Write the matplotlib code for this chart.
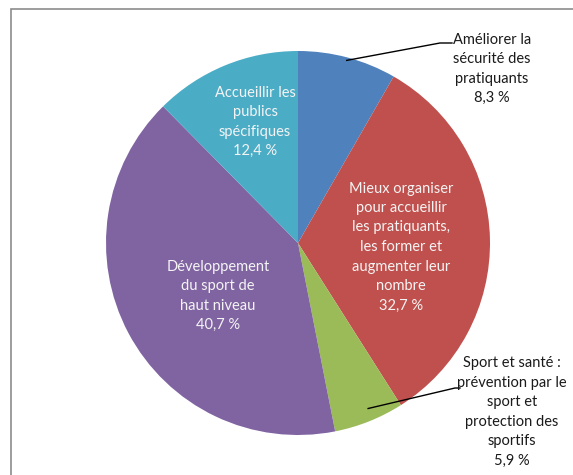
import matplotlib.pyplot as plt
from matplotlib.patches import Rectangle
import numpy as np

plt.rcParams['font.family'] = ['Lato', 'DejaVu Sans']

categories = ['Améliorer la\nsécurité des\npratiquants',
              'Mieux organiser\npour accueillir\nles pratiquants,\nles former et\naugmenter leur\nnombre',
              'Sport et santé :\nprévention par le\nsport et\nprotection des\nsportifs',
              'Développement\ndu sport de\nhaut niveau',
              'Accueillir les\npublics\nspécifiques']
values = [8.3, 32.7, 5.9, 40.7, 12.4]
colors = ['#4F81BD', '#C0504D', '#9BBB59', '#8064A2', '#4BACC6']

fig = plt.figure(figsize=(5.73, 4.75), dpi=100)
ax = fig.add_axes([0, 0, 1, 1])

cx, cy, r = 298, 232, 192
wedges, _ = ax.pie(values, colors=colors, startangle=90, counterclock=False,
                   center=(cx, cy), radius=r,
                   wedgeprops=dict(linewidth=0))

ax.set_xlim(0, 573)
ax.set_ylim(0, 475)
ax.set_aspect('equal')
ax.axis('off')

# cadre du graphique
ax.add_patch(Rectangle((11, -10), 600, 475 - 9 + 10, fill=False,
                       edgecolor='#8c8c8c', linewidth=1.2))

etiquettes = [c + '\n' + ('%.1f' % v).replace('.', ',') + ' %'
              for c, v in zip(categories, values)]

# positions des étiquettes (en pixels)
pos = {0: (492, 406), 1: (401, 228), 2: (512, 63), 3: (218, 179), 4: (255, 353)}
inside = {1, 3, 4}

for i, w in enumerate(wedges):
    x, y = pos[i]
    if i in inside:
        ax.text(x, y, etiquettes[i], ha='center', va='center', color='#f4f4f4',
                fontsize=10.5, linespacing=1.5)
    else:
        ang = np.deg2rad((w.theta1 + w.theta2) / 2)
        ex, ey = cx + (r - 3) * np.cos(ang), cy + (r - 3) * np.sin(ang)
        if i == 0:
            ax.plot([ex, 440, 452], [ey, 432, 432], color='black', lw=1)
        else:
            ax.plot([ex, 455, 460], [ey + 10, 87, 87], color='black', lw=1)
        ax.text(x, y, etiquettes[i], ha='center', va='center', color='#1a1a1a',
                fontsize=10.5, linespacing=1.5)

fig.savefig('out.png', dpi=100)
